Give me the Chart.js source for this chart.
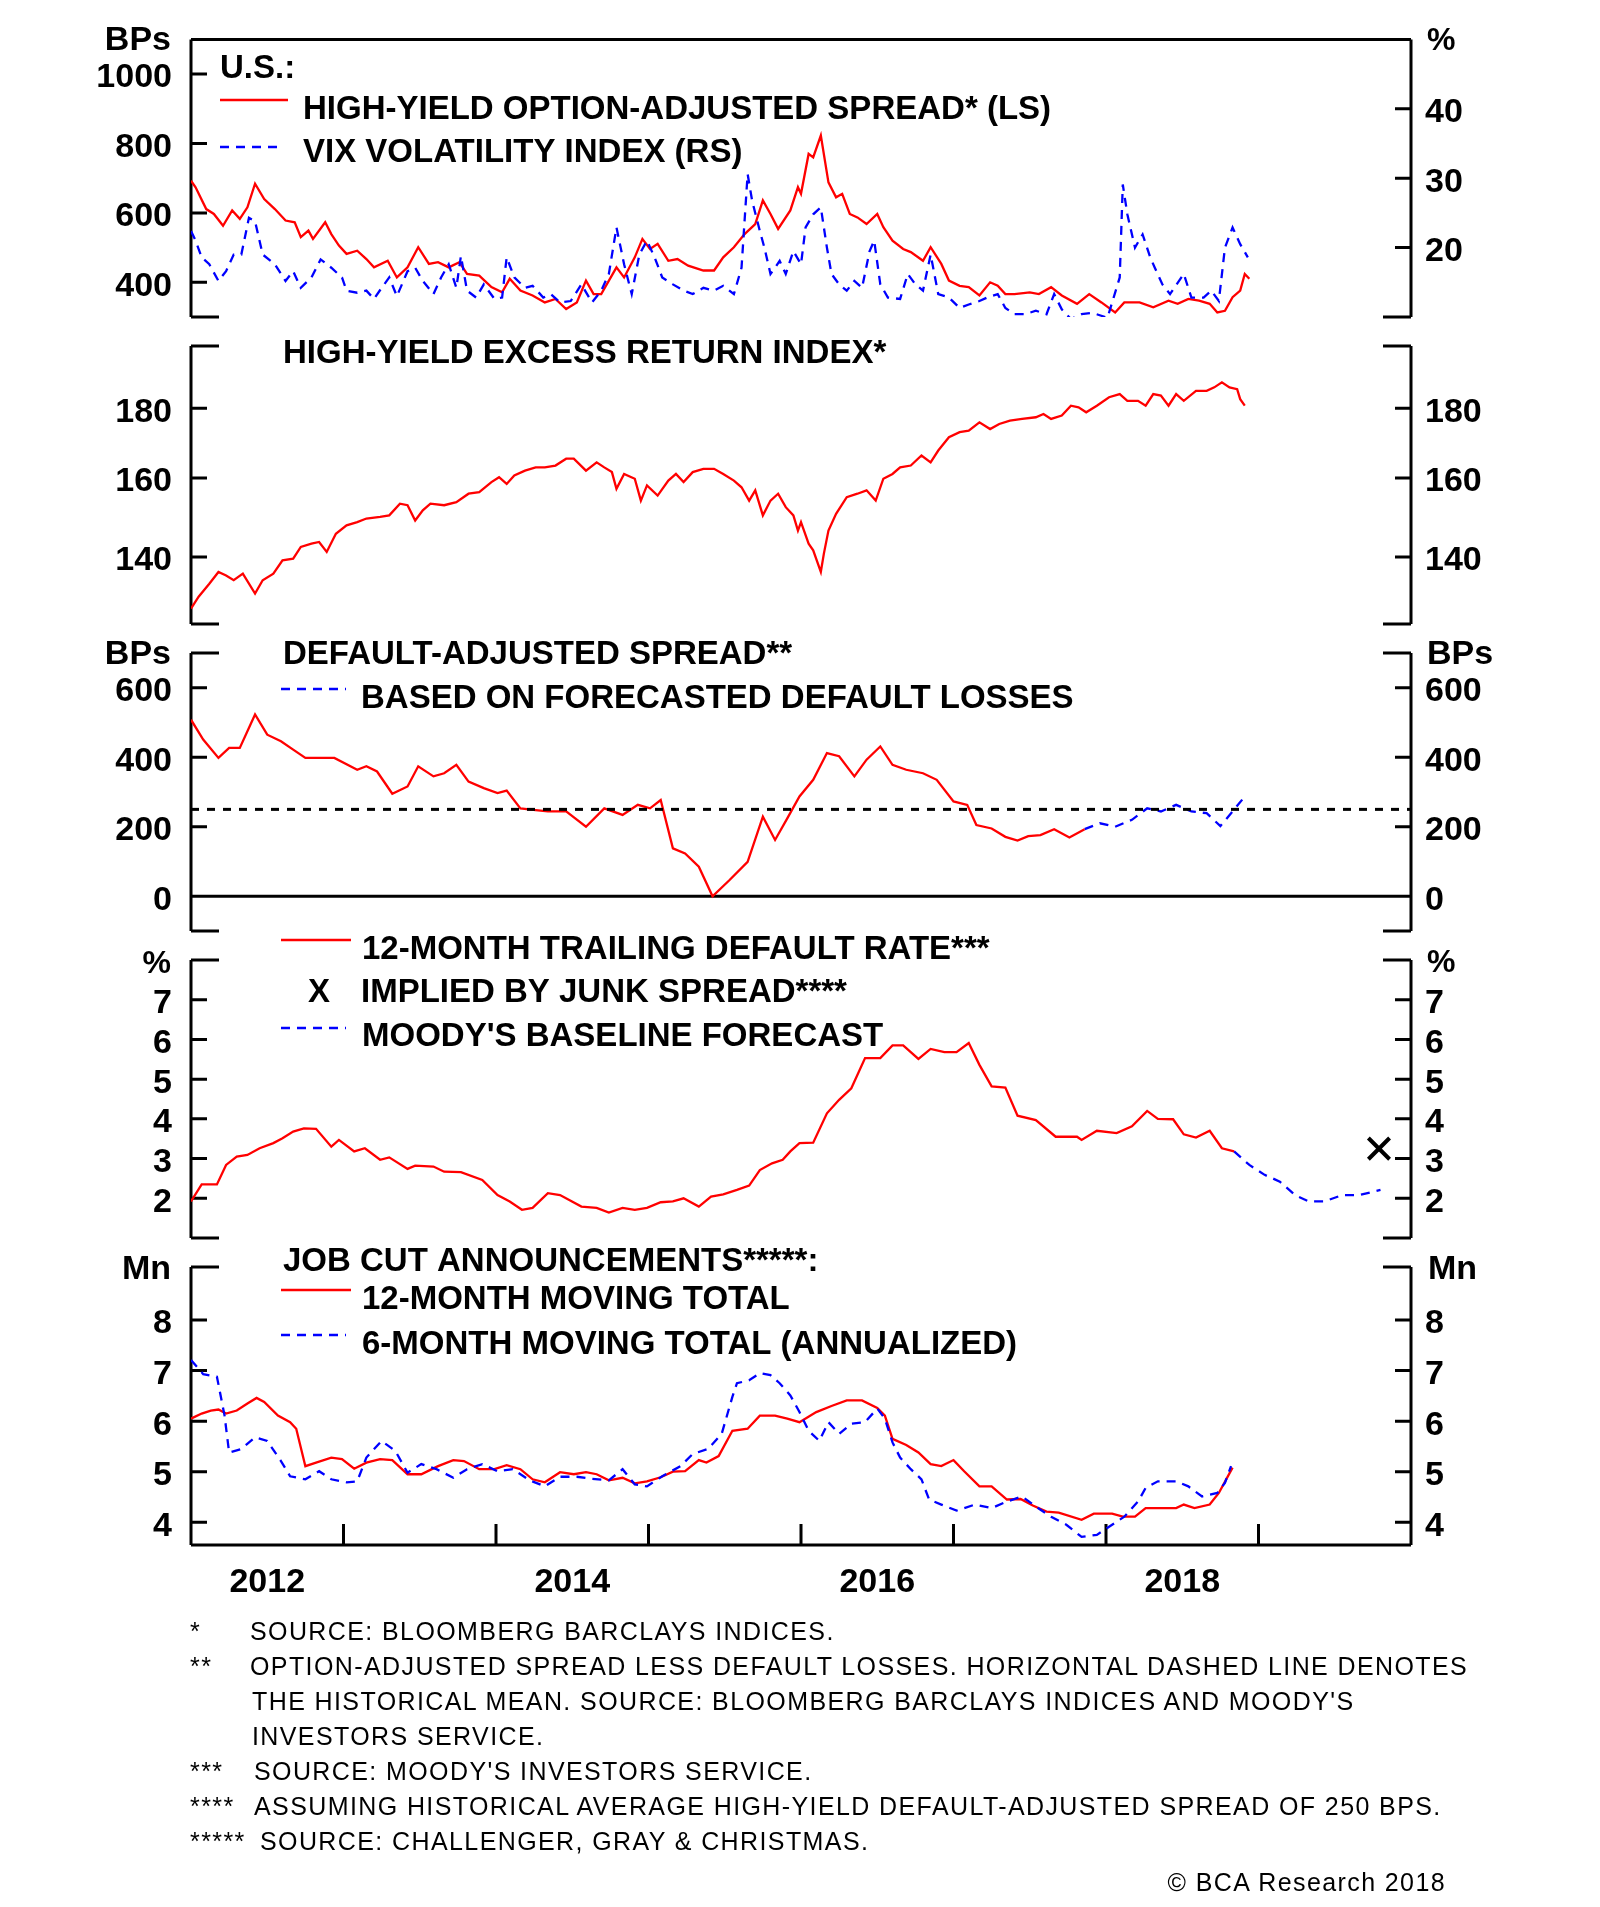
<!DOCTYPE html>
<html>
<head>
<meta charset="utf-8">
<title>U.S. high-yield spreads, defaults and job cuts</title>
<script src="https://cdn.jsdelivr.net/npm/chart.js@4.4.1/dist/chart.umd.min.js"></script>
<style>
  html, body { margin: 0; background: #fff; }
  #page { position: relative; width: 1600px; height: 1907px; overflow: hidden; }
  #page canvas { position: absolute; left: 0; top: 0; }
  .fn { position: absolute; font: 25px "Liberation Sans", Arial, sans-serif; letter-spacing: 1.4px;
        line-height: 25px; white-space: nowrap; color: #000; }
</style>
</head>
<body>
<div id="page">
  <canvas id="p1" width="1600" height="1907"></canvas>
  <canvas id="p2" width="1600" height="1907"></canvas>
  <canvas id="p3" width="1600" height="1907"></canvas>
  <canvas id="p4" width="1600" height="1907"></canvas>
  <canvas id="p5" width="1600" height="1907"></canvas>

  <div class="fn" style="left:190px;top:1619px">*</div>
  <div class="fn" style="left:250px;top:1619px">SOURCE: BLOOMBERG BARCLAYS INDICES.</div>
  <div class="fn" style="left:190px;top:1654px">**</div>
  <div class="fn" style="left:250px;top:1654px">OPTION-ADJUSTED SPREAD LESS DEFAULT LOSSES. HORIZONTAL DASHED LINE DENOTES</div>
  <div class="fn" style="left:252px;top:1689px">THE HISTORICAL MEAN. SOURCE: BLOOMBERG BARCLAYS INDICES AND MOODY'S</div>
  <div class="fn" style="left:252px;top:1724px">INVESTORS SERVICE.</div>
  <div class="fn" style="left:190px;top:1759px">***</div>
  <div class="fn" style="left:254px;top:1759px">SOURCE: MOODY'S INVESTORS SERVICE.</div>
  <div class="fn" style="left:190px;top:1794px">****</div>
  <div class="fn" style="left:254px;top:1794px">ASSUMING HISTORICAL AVERAGE HIGH-YIELD DEFAULT-ADJUSTED SPREAD OF 250 BPS.</div>
  <div class="fn" style="left:190px;top:1829px">*****</div>
  <div class="fn" style="left:260px;top:1829px">SOURCE: CHALLENGER, GRAY &amp; CHRISTMAS.</div>
  <div class="fn" style="right:154px;top:1870px">© BCA Research 2018</div>
</div>

<script>
// Panel 1: high-yield option-adjusted spread (BPs) and VIX (%)
const oasT = [2012.00,2012.03,2012.10,2012.15,2012.21,2012.27,2012.32,2012.37,2012.42,2012.48,2012.55,2012.62,2012.68,2012.72,2012.77,2012.80,2012.88,2012.92,2012.97,
  2013.02,2013.09,2013.15,2013.20,2013.29,2013.35,2013.42,2013.49,2013.56,2013.62,2013.69,2013.76,2013.81,2013.89,2013.97,
  2014.04,2014.09,2014.16,2014.24,2014.32,2014.39,2014.46,2014.53,2014.59,2014.64,2014.69,2014.79,2014.84,2014.91,2014.96,
  2015.01,2015.06,2015.13,2015.19,2015.26,2015.36,2015.43,2015.49,2015.56,2015.63,2015.70,2015.75,2015.80,2015.85,2015.93,2015.98,
  2016.00,2016.05,2016.08,2016.13,2016.18,2016.23,2016.27,2016.32,2016.37,2016.43,2016.50,2016.54,2016.60,2016.67,2016.72,2016.80,2016.85,2016.92,2016.97,
  2017.04,2017.10,2017.17,2017.24,2017.29,2017.34,2017.40,2017.50,2017.56,2017.64,2017.71,2017.81,2017.89,2017.97,
  2018.06,2018.12,2018.22,2018.31,2018.41,2018.47,2018.54,2018.61,2018.68,2018.73,2018.78,2018.83,2018.88,2018.91,2018.94];
const oasV = [693,674,611,597,563,607,583,616,684,640,611,578,573,530,549,525,573,539,506,
  482,491,467,443,462,414,443,501,453,458,443,458,424,419,386,
  371,410,376,362,342,352,323,342,405,366,366,443,414,472,525,
  496,511,462,467,448,434,434,472,501,539,568,636,597,554,607,674,
  655,770,760,823,688,645,655,597,587,568,597,559,520,496,487,462,501,453,405,
  390,386,362,400,390,366,366,371,366,386,362,338,366,342,
  313,342,342,328,347,338,352,347,338,313,318,357,376,424,410];

const vixT = [2012.00,2012.03,2012.07,2012.12,2012.18,2012.23,2012.28,2012.33,2012.38,2012.42,2012.47,2012.55,2012.62,2012.67,2012.72,2012.79,2012.85,2012.92,2012.99,
  2013.02,2013.09,2013.15,2013.20,2013.25,2013.30,2013.35,2013.42,2013.47,2013.52,2013.59,2013.64,2013.69,2013.74,2013.77,2013.81,2013.87,2013.92,2013.99,
  2014.04,2014.07,2014.12,2014.19,2014.24,2014.31,2014.36,2014.42,2014.49,2014.56,2014.63,2014.69,2014.74,2014.79,2014.84,2014.89,2014.94,2014.99,
  2015.04,2015.09,2015.16,2015.23,2015.29,2015.36,2015.43,2015.49,2015.56,2015.61,2015.65,2015.68,2015.73,2015.76,2015.80,2015.83,2015.86,2015.90,2015.95,
  2016.00,2016.03,2016.08,2016.13,2016.17,2016.20,2016.25,2016.30,2016.35,2016.40,2016.45,2016.48,2016.52,2016.57,2016.65,2016.70,2016.75,2016.80,2016.85,2016.90,2016.97,
  2017.04,2017.10,2017.17,2017.22,2017.29,2017.34,2017.40,2017.47,2017.54,2017.61,2017.66,2017.71,2017.77,2017.84,2017.91,
  2018.01,2018.09,2018.11,2018.14,2018.19,2018.24,2018.29,2018.32,2018.37,2018.42,2018.51,2018.56,2018.64,2018.69,2018.74,2018.78,2018.83,2018.88,2018.93];
const vixV = [22.4,21.0,18.6,17.6,15.2,16.6,19.0,19.0,24.3,23.8,19.0,17.6,15.2,16.6,14.2,15.7,18.3,17.1,15.7,
  13.8,13.5,13.8,12.6,14.2,15.7,13.0,16.6,17.1,15.2,13.3,15.7,17.6,14.2,18.8,13.8,12.8,14.7,12.6,
  12.8,18.6,15.7,14.2,14.5,12.8,13.3,12.1,12.3,14.7,12.1,13.8,16.2,22.9,17.6,13.3,19.0,21.0,
  18.6,15.7,14.7,13.8,13.3,14.2,13.8,14.5,13.3,17.1,30.6,26.7,22.4,20.0,16.2,17.1,18.1,16.2,19.5,
  17.6,22.9,24.8,25.8,20.0,16.2,14.7,13.8,15.2,14.2,19.5,21.0,14.7,12.8,12.6,16.2,14.7,13.8,19.0,13.3,12.8,
  11.3,11.8,12.3,12.8,13.3,11.3,10.4,10.4,10.9,10.4,13.3,11.1,9.7,10.4,10.6,
  9.9,15.7,29.1,24.8,20.0,21.9,18.6,17.1,14.7,13.3,16.2,12.8,12.8,13.8,12.3,20.0,22.9,20.5,18.6];

// Panel 2: high-yield excess return index (log scale)
const hyxT = [2012.00,2012.05,2012.12,2012.18,2012.23,2012.28,2012.34,2012.42,2012.47,2012.54,2012.60,2012.67,2012.72,2012.79,2012.84,2012.89,2012.95,
  2013.02,2013.09,2013.15,2013.24,2013.30,2013.37,2013.42,2013.47,2013.52,2013.57,2013.66,2013.74,2013.82,2013.89,2013.97,
  2014.02,2014.07,2014.12,2014.19,2014.26,2014.32,2014.39,2014.46,2014.51,2014.59,2014.66,2014.71,2014.76,2014.79,2014.84,2014.91,2014.95,2014.99,
  2015.06,2015.13,2015.18,2015.23,2015.29,2015.36,2015.43,2015.49,2015.56,2015.61,2015.66,2015.70,2015.75,2015.80,2015.85,2015.90,2015.95,2015.98,
  2016.00,2016.05,2016.08,2016.13,2016.15,2016.18,2016.23,2016.30,2016.37,2016.43,2016.49,2016.54,2016.60,2016.65,2016.72,2016.79,2016.85,2016.90,2016.97,
  2017.04,2017.10,2017.17,2017.24,2017.30,2017.37,2017.45,2017.54,2017.59,2017.64,2017.71,2017.77,2017.82,2017.87,2017.94,
  2018.02,2018.09,2018.14,2018.21,2018.26,2018.31,2018.36,2018.41,2018.46,2018.51,2018.59,2018.66,2018.71,2018.76,2018.81,2018.86,2018.88,2018.91];
const hyxV = [128.3,130.9,133.8,136.5,135.7,134.6,136.1,131.6,134.6,136.1,139.2,139.6,142.4,143.2,143.6,141.2,145.6,
  147.7,148.5,149.4,149.8,150.2,153.2,152.8,148.9,151.5,153.2,152.8,153.6,155.8,156.2,158.9,
  160.2,158.4,160.7,162.0,162.9,162.9,163.4,165.3,165.3,162.0,164.3,162.9,161.6,157.1,161.1,159.8,154.0,158.0,
  155.3,159.3,161.1,158.9,161.6,162.5,162.5,161.1,159.3,157.5,154.0,156.7,150.2,154.0,155.8,152.3,150.2,146.4,
  148.5,143.2,141.6,136.5,140.8,146.4,150.6,154.9,155.8,156.7,154.0,159.8,161.1,162.9,163.4,166.2,164.3,167.6,171.4,
  172.9,173.3,175.8,173.8,175.3,176.3,176.8,177.3,178.3,176.8,177.8,180.8,180.3,178.8,180.8,
  183.4,184.4,182.3,182.3,180.8,184.4,183.9,180.8,184.4,182.3,185.4,185.4,186.5,188.1,186.5,185.9,182.8,180.8];

// Panel 3: default-adjusted spread (BPs), actual and forecast-based
const dasT = [2012.00,2012.08,2012.18,2012.25,2012.32,2012.42,2012.50,2012.59,2012.67,2012.75,2012.94,
  2013.09,2013.15,2013.22,2013.32,2013.42,2013.49,2013.59,2013.66,2013.74,2013.82,2013.92,
  2014.01,2014.07,2014.16,2014.26,2014.34,2014.46,2014.59,2014.71,2014.83,2014.93,
  2015.01,2015.08,2015.16,2015.24,2015.33,2015.42,2015.53,2015.65,2015.75,2015.83,2015.91,2015.99,
  2016.08,2016.17,2016.25,2016.35,2016.43,2016.52,2016.60,2016.69,2016.80,2016.89,
  2017.00,2017.09,2017.15,2017.25,2017.34,2017.42,2017.49,2017.57,2017.66,2017.76,2017.86];
const dasV = [508,451,398,427,427,523,465,446,422,398,398,
  364,374,359,295,316,374,345,354,378,330,311,
  297,304,253,248,244,244,200,253,234,263,
  253,277,138,123,85,0,46,99,229,162,224,287,
  335,412,403,345,393,431,378,364,354,335,
  273,263,205,195,171,160,173,176,193,169,193];
const dasFcT = [2017.86,2017.96,2018.06,2018.17,2018.27,2018.36,2018.46,2018.56,2018.66,2018.75,2018.83,2018.91];
const dasFcV = [193,210,200,220,253,244,263,244,239,202,244,287];
const DAS_MEAN = 250;

// Panel 4: 12-month trailing default rate (%), Moody's forecast, implied rate
const dfltT = [2012.00,2012.07,2012.17,2012.23,2012.30,2012.37,2012.45,2012.54,2012.60,2012.67,2012.74,2012.82,2012.92,2012.97,
  2013.07,2013.14,2013.24,2013.30,2013.42,2013.47,2013.59,2013.66,2013.77,2013.91,
  2014.01,2014.09,2014.17,2014.24,2014.34,2014.42,2014.56,2014.66,2014.74,2014.83,2014.91,2014.99,
  2015.08,2015.16,2015.23,2015.33,2015.41,2015.49,2015.58,2015.66,2015.73,2015.81,2015.88,2015.93,2015.99,
  2016.08,2016.17,2016.25,2016.33,2016.42,2016.52,2016.60,2016.67,2016.77,2016.85,2016.94,
  2017.02,2017.10,2017.17,2017.25,2017.34,2017.42,2017.54,2017.67,2017.81,2017.84,2017.94,
  2018.07,2018.17,2018.27,2018.34,2018.44,2018.51,2018.59,2018.68,2018.76,2018.84];
const dfltV = [1.92,2.35,2.35,2.84,3.05,3.09,3.26,3.39,3.51,3.68,3.76,3.75,3.30,3.47,
  3.18,3.26,2.97,3.03,2.74,2.82,2.80,2.67,2.66,2.46,
  2.08,1.92,1.71,1.76,2.13,2.08,1.79,1.76,1.64,1.76,1.71,1.76,
  1.90,1.92,2.00,1.79,2.04,2.10,2.21,2.32,2.71,2.88,2.97,3.18,3.39,
  3.40,4.14,4.48,4.77,5.53,5.53,5.85,5.85,5.51,5.76,5.68,
  5.68,5.91,5.36,4.82,4.79,4.08,3.97,3.55,3.55,3.47,3.70,
  3.64,3.81,4.20,4.00,3.99,3.61,3.53,3.70,3.26,3.18];
const moodyT = [2018.84,2018.94,2019.04,2019.14,2019.24,2019.33,2019.43,2019.55,2019.66,2019.80];
const moodyV = [3.18,2.84,2.59,2.42,2.08,1.92,1.92,2.08,2.08,2.21];
const impliedT = [2019.79];
const impliedV = [3.25];

// Panel 5: job cut announcements (Mn)
const j12T = [2012.00,2012.07,2012.13,2012.18,2012.23,2012.30,2012.37,2012.43,2012.48,2012.57,2012.65,2012.69,2012.75,2012.82,2012.92,2012.99,
  2013.07,2013.15,2013.24,2013.32,2013.42,2013.51,2013.62,2013.72,2013.79,2013.89,2013.99,
  2014.07,2014.16,2014.24,2014.32,2014.42,2014.51,2014.59,2014.66,2014.74,2014.83,2014.91,2014.99,
  2015.08,2015.16,2015.24,2015.33,2015.38,2015.46,2015.55,2015.65,2015.73,2015.83,2015.91,2015.99,
  2016.10,2016.20,2016.30,2016.40,2016.50,2016.55,2016.60,2016.69,2016.77,2016.85,2016.92,
  2017.00,2017.07,2017.17,2017.25,2017.35,2017.44,2017.52,2017.61,2017.69,2017.84,2017.92,
  2018.04,2018.11,2018.19,2018.26,2018.36,2018.46,2018.51,2018.58,2018.68,2018.74,2018.83];
const j12V = [6.05,6.15,6.21,6.23,6.15,6.21,6.35,6.46,6.38,6.11,5.98,5.85,5.11,5.18,5.28,5.25,
  5.06,5.18,5.25,5.23,4.95,4.95,5.11,5.23,5.21,5.05,5.05,
  5.13,5.05,4.85,4.79,4.99,4.95,4.99,4.95,4.83,4.88,4.77,4.81,
  4.89,5.00,5.01,5.23,5.18,5.31,5.81,5.85,6.11,6.11,6.05,5.98,
  6.18,6.30,6.41,6.41,6.26,6.11,5.65,5.53,5.38,5.15,5.11,
  5.23,5.01,4.71,4.71,4.45,4.46,4.33,4.21,4.19,4.05,4.17,
  4.17,4.11,4.11,4.28,4.28,4.28,4.35,4.28,4.35,4.58,5.08];
const j6T = [2012.00,2012.08,2012.17,2012.22,2012.25,2012.33,2012.42,2012.50,2012.59,2012.65,2012.75,2012.84,2012.92,
  2013.02,2013.09,2013.15,2013.25,2013.34,2013.42,2013.51,2013.61,2013.72,2013.81,2013.91,
  2014.01,2014.11,2014.22,2014.32,2014.42,2014.53,2014.63,2014.74,2014.83,2014.91,2014.99,
  2015.09,2015.21,2015.29,2015.39,2015.48,2015.55,2015.58,2015.66,2015.73,2015.80,2015.86,2015.93,2015.99,
  2016.05,2016.12,2016.18,2016.25,2016.33,2016.42,2016.50,2016.55,2016.60,2016.65,2016.72,2016.79,2016.84,2016.92,
  2017.02,2017.14,2017.25,2017.35,2017.45,2017.54,2017.64,2017.74,2017.84,2017.94,
  2018.02,2018.12,2018.21,2018.26,2018.34,2018.46,2018.54,2018.63,2018.73,2018.78,2018.82];
const j6V = [7.21,6.93,6.88,6.11,5.38,5.45,5.68,5.61,5.21,4.91,4.85,5.01,4.85,
  4.79,4.81,5.28,5.61,5.41,4.98,5.15,5.05,4.88,5.05,5.15,
  5.01,5.05,4.83,4.71,4.90,4.90,4.86,4.83,5.05,4.75,4.71,
  4.91,5.11,5.35,5.45,5.75,6.48,6.75,6.81,6.95,6.91,6.75,6.51,6.18,
  5.81,5.61,5.98,5.75,5.95,5.98,6.25,6.05,5.58,5.28,5.05,4.85,4.45,4.35,
  4.23,4.35,4.28,4.41,4.51,4.31,4.11,3.95,3.71,3.75,
  3.91,4.11,4.41,4.68,4.81,4.81,4.71,4.51,4.58,4.78,5.11];

// axes
const X_MIN = 2012, X_MAX = 2020;
const YEAR_TICKS = [2013, 2014, 2015, 2016, 2017, 2018, 2019];
const YEAR_LABELS = [2012.5, 2014.5, 2016.5, 2018.5];
const OAS_TICKS = [400, 600, 800, 1000];
const VIX_TICKS = [20, 30, 40];
const HYX_TICKS = [140, 160, 180];
const DAS_TICKS = [0, 200, 400, 600];
const DFLT_TICKS = [2, 3, 4, 5, 6, 7];
const JOBS_TICKS = [4, 5, 6, 7, 8];

const FONT = '"Liberation Sans", Arial, sans-serif';
const RED = '#ff0000';
const BLUE = '#0000ff';
const PAGE_H = 1907;
const X_AXIS_H = 60;
const KEY_SIZE = 33;

function pts(t, v) { return t.map((x, i) => ({ x: x, y: v[i] })); }

function solid(data, color, axis) {
  return { data: data, borderColor: color, borderWidth: 2.3, pointRadius: 0, tension: 0, yAxisID: axis || 'y' };
}
function dashed(data, color, axis) {
  return Object.assign(solid(data, color, axis), { borderDash: [9, 7] });
}

function yAxis(side, min, max, ticks, type) {
  return {
    type: type || 'linear', position: side, min: min, max: max,
    grid: { display: false, drawTicks: false },
    border: { display: false },
    afterFit: s => { s.width = side === 'left' ? 191 : 189; },
    afterBuildTicks: s => { s.ticks = ticks.map(v => ({ value: v })); },
    ticks: { padding: side === 'left' ? 19 : 14, labelOffset: 4, color: '#000',
      font: { family: FONT, size: 34, weight: 'bold' }, callback: v => v }
  };
}

function hiddenX() {
  return { type: 'linear', min: X_MIN, max: X_MAX, display: false };
}

function yearX() {
  return {
    type: 'linear', min: X_MIN, max: X_MAX, position: 'bottom',
    grid: { display: false, drawTicks: false },
    border: { display: false },
    afterFit: s => { s.height = X_AXIS_H; },
    afterBuildTicks: s => { s.ticks = YEAR_LABELS.map(v => ({ value: v })); },
    ticks: { padding: 17, autoSkip: false, maxRotation: 0, color: '#000',
      font: { family: FONT, size: 34, weight: 'bold' }, callback: v => String(Math.floor(v)) }
  };
}

function opts(top, bottom, scales) {
  return {
    responsive: false, animation: false, events: [],
    layout: { padding: { top: top, bottom: PAGE_H - bottom, left: 0, right: 0 } },
    plugins: { legend: { display: false }, tooltip: { enabled: false } },
    scales: scales
  };
}

function seg(ctx, x1, y1, x2, y2) { ctx.moveTo(x1, y1); ctx.lineTo(x2, y2); }

// frame, inward tick marks, titles and legend keys
function decor(spec) {
  return {
    id: 'decor',
    beforeDatasetsDraw(chart) {
      const { ctx, chartArea: a, scales } = chart;
      const L = a.left, R = a.right, T = a.top, B = a.bottom, S = 28;
      ctx.save();
      ctx.strokeStyle = '#000';
      ctx.lineWidth = 3;
      ctx.beginPath();
      seg(ctx, L, T, L, B);
      seg(ctx, R, T, R, B);
      if (spec.top === 'full') seg(ctx, L, T, R, T);
      else { seg(ctx, L, T, L + S, T); seg(ctx, R - S, T, R, T); }
      if (spec.bottom === 'full') seg(ctx, L, B, R, B);
      else { seg(ctx, L, B, L + S, B); seg(ctx, R - S, B, R, B); }
      scales.y.ticks.forEach(t => { const y = scales.y.getPixelForValue(t.value); seg(ctx, L, y, L + 16, y); });
      scales.y2.ticks.forEach(t => { const y = scales.y2.getPixelForValue(t.value); seg(ctx, R - 16, y, R, y); });
      if (spec.zero) { const y = scales.y.getPixelForValue(0); seg(ctx, L, y, R, y); }
      if (spec.years) spec.years.forEach(v => { const x = scales.x.getPixelForValue(v); seg(ctx, x, B, x, B - 21); });
      ctx.stroke();
      ctx.restore();
    },
    afterDraw(chart) {
      const ctx = chart.ctx;
      ctx.save();
      (spec.keys || []).forEach(k => {
        ctx.beginPath();
        ctx.strokeStyle = k[3];
        ctx.lineWidth = 2.5;
        ctx.setLineDash(k[4] ? [9, 7] : []);
        seg(ctx, k[0], k[2], k[1], k[2]);
        ctx.stroke();
      });
      ctx.setLineDash([]);
      ctx.fillStyle = '#000';
      ctx.textBaseline = 'middle';
      (spec.texts || []).forEach(t => {
        ctx.font = 'bold ' + (t[4] || KEY_SIZE) + 'px ' + FONT;
        ctx.textAlign = t[3] || 'left';
        ctx.fillText(t[0], t[1], t[2]);
      });
      ctx.restore();
    }
  };
}

// Panel 1
new Chart(document.getElementById('p1'), {
  type: 'line',
  data: { datasets: [
    dashed(pts(vixT, vixV), BLUE, 'y2'),
    solid(pts(oasT, oasV), RED, 'y')
  ] },
  options: opts(39, 317, {
    x: hiddenX(),
    y: yAxis('left', 300, 1100, OAS_TICKS),
    y2: yAxis('right', 10, 50, VIX_TICKS)
  }),
  plugins: [decor({
    top: 'full',
    texts: [['BPs', 171, 41, 'right', 34], ['%', 1427, 41, 'left', 32], ['U.S.:', 220, 69],
      ['HIGH-YIELD OPTION-ADJUSTED SPREAD* (LS)', 303, 110], ['VIX VOLATILITY INDEX (RS)', 303, 153]],
    keys: [[220, 288, 100, RED, false], [220, 284, 147, BLUE, true]]
  })]
});

// Panel 2
new Chart(document.getElementById('p2'), {
  type: 'line',
  data: { datasets: [solid(pts(hyxT, hyxV), RED, 'y')] },
  options: opts(346, 624, {
    x: hiddenX(),
    y: yAxis('left', 125, 200, HYX_TICKS, 'logarithmic'),
    y2: yAxis('right', 125, 200, HYX_TICKS, 'logarithmic')
  }),
  plugins: [decor({ texts: [['HIGH-YIELD EXCESS RETURN INDEX*', 283, 354]] })]
});

// Panel 3
new Chart(document.getElementById('p3'), {
  type: 'line',
  data: { datasets: [
    Object.assign(solid(pts([X_MIN, X_MAX], [DAS_MEAN, DAS_MEAN]), '#000', 'y'), { borderDash: [8, 8], borderWidth: 3 }),
    solid(pts(dasT, dasV), RED, 'y'),
    dashed(pts(dasFcT, dasFcV), BLUE, 'y')
  ] },
  options: opts(653, 931, {
    x: hiddenX(),
    y: yAxis('left', -100, 700, DAS_TICKS),
    y2: yAxis('right', -100, 700, DAS_TICKS)
  }),
  plugins: [decor({
    zero: true,
    texts: [['BPs', 171, 655, 'right', 34], ['BPs', 1427, 655, 'left', 34], ['DEFAULT-ADJUSTED SPREAD**', 283, 655],
      ['BASED ON FORECASTED DEFAULT LOSSES', 361, 699]],
    keys: [[281, 346, 689, BLUE, true]]
  })]
});

// Panel 4
new Chart(document.getElementById('p4'), {
  type: 'line',
  data: { datasets: [
    solid(pts(dfltT, dfltV), RED, 'y'),
    dashed(pts(moodyT, moodyV), BLUE, 'y'),
    { data: pts(impliedT, impliedV), showLine: false, pointStyle: 'crossRot', pointRadius: 15,
      pointBorderWidth: 4, pointBorderColor: '#000', borderColor: '#000', yAxisID: 'y' }
  ] },
  options: opts(960, 1238, {
    x: hiddenX(),
    y: yAxis('left', 1, 8, DFLT_TICKS),
    y2: yAxis('right', 1, 8, DFLT_TICKS)
  }),
  plugins: [decor({
    texts: [['%', 171, 964, 'right', 32], ['%', 1427, 963, 'left', 32],
      ['12-MONTH TRAILING DEFAULT RATE***', 362, 950], ['X', 319, 993, 'center'],
      ['IMPLIED BY JUNK SPREAD****', 361, 993], ["MOODY'S BASELINE FORECAST", 362, 1037]],
    keys: [[281, 351, 940, RED, false], [281, 346, 1028, BLUE, true]]
  })]
});

// Panel 5
new Chart(document.getElementById('p5'), {
  type: 'line',
  data: { datasets: [
    dashed(pts(j6T, j6V), BLUE, 'y'),
    solid(pts(j12T, j12V), RED, 'y')
  ] },
  options: opts(1267, 1545 + X_AXIS_H, {
    x: yearX(),
    y: yAxis('left', 3.55, 9.05, JOBS_TICKS),
    y2: yAxis('right', 3.55, 9.05, JOBS_TICKS)
  }),
  plugins: [decor({
    bottom: 'full', years: YEAR_TICKS,
    texts: [['Mn', 171, 1270, 'right', 34], ['Mn', 1428, 1270, 'left', 34], ['JOB CUT ANNOUNCEMENTS*****:', 283, 1262],
      ['12-MONTH MOVING TOTAL', 362, 1300], ['6-MONTH MOVING TOTAL (ANNUALIZED)', 362, 1345]],
    keys: [[281, 351, 1290, RED, false], [281, 346, 1335, BLUE, true]]
  })]
});
</script>
</body>
</html>
